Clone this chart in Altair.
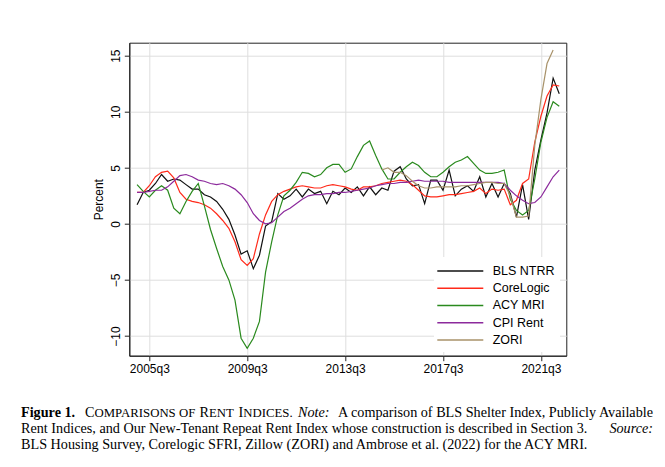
import altair as alt
import pandas as pd

# ---------------- data ----------------
quarters = [f"{y}q{q}" for y in range(2005, 2023) for q in range(1, 5)][:70]  # 2005q1 .. 2022q2

bls_ntrr = [1.7, 2.8, 3.0, 3.6, 4.4, 3.8, 4.0, 3.9, 3.5, 3.1,
            3.1, 2.6, 2.4, 2.0, 1.3, 0.4, -1.0, -2.7, -2.4, -4.0,
            -2.8, -0.2, 0.2, 2.7, 2.2, 2.5, 3.1, 2.4, 3.1, 2.7,
            2.9, 1.8, 2.9, 2.6, 3.2, 2.8, 3.3, 2.5, 3.3, 2.6,
            3.2, 3.0, 4.7, 5.1, 4.0, 3.4, 3.5, 1.8, 3.9, 3.9,
            3.0, 4.8, 2.5, 3.1, 3.4, 2.9, 4.2, 2.4, 3.6, 2.4,
            3.6, 2.7, 0.6, 3.5, 0.4, 4.8, 7.5, 9.9, 13.0, 11.6]
corelogic = [2.8, 2.8, 3.4, 4.2, 4.6, 4.7, 4.1, 2.8, 2.2, 2.0,
             1.9, 1.7, 1.4, 0.9, 0.3, -0.4, -1.6, -3.2, -3.7, -3.1,
             -0.9, 0.8, 2.0, 2.6, 2.9, 3.1, 3.3, 3.4, 3.3, 3.2,
             3.2, 3.4, 3.5, 3.4, 3.3, 3.1, 3.0, 3.3, 3.3, 3.4,
             3.6, 3.7, 3.8, 3.9, 3.8, 3.5, 3.0, 2.5, 2.4, 2.4,
             2.5, 2.6, 2.6, 2.7, 2.8, 2.9, 3.2, 2.7, 3.1, 3.0,
             3.1, 1.7, 2.1, 3.6, 4.0, 7.3, 9.6, 11.4, 12.4, 12.3]
acy_mri = [3.5, 2.9, 2.4, 3.0, 3.4, 3.0, 1.4, 0.9, 2.0, 2.9,
           3.6, 1.6, -0.5, -2.2, -3.8, -5.0, -6.8, -10.2, -11.1, -10.2,
           -8.7, -4.3, -1.6, 0.8, 2.5, 3.0, 3.7, 4.6, 4.5, 4.2,
           4.4, 5.0, 5.3, 5.3, 4.6, 4.9, 6.0, 7.0, 7.4, 6.1,
           4.9, 4.0, 4.0, 4.6, 5.1, 5.5, 5.2, 4.6, 4.2, 4.2,
           4.6, 5.1, 5.5, 5.7, 6.0, 5.4, 4.8, 4.5, 4.5, 4.6,
           4.8, 2.2, 1.2, 0.8, 1.2, 4.0, 7.3, 9.5, 10.9, 10.5]
cpi_rent = [2.8, 2.8, 2.9, 3.0, 3.0, 3.3, 3.8, 4.3, 4.4, 4.2,
            3.9, 3.8, 3.6, 3.5, 3.6, 3.4, 3.1, 2.6, 1.9, 0.9,
            0.3, 0.0, 0.1, 0.6, 1.1, 1.4, 1.8, 2.2, 2.5, 2.6,
            2.6, 2.7, 2.7, 2.8, 2.8, 2.9, 3.0, 3.1, 3.2, 3.4,
            3.5, 3.6, 3.6, 3.7, 3.7, 3.8, 3.9, 3.8, 3.8, 3.8,
            3.8, 3.7, 3.7, 3.7, 3.7, 3.7, 3.7, 3.7, 3.7, 3.7,
            3.6, 3.0, 2.5, 2.1, 1.8, 1.9, 2.4, 3.3, 4.2, 4.8]
zori_start = "2015q1"
zori = [4.8, 5.0, 4.6, 4.6, 4.3, 3.8, 3.4, 3.2, 3.2, 3.3,
        3.3, 3.3, 3.3, 3.4, 3.4, 3.5, 3.6, 3.7, 3.7, 3.6,
        3.6, 2.5, 0.6, 0.6, 0.7, 7.0, 11.1, 14.3, 15.5]

series_names = ["BLS NTRR", "CoreLogic", "ACY MRI", "CPI Rent", "ZORI"]
series_colors = ["#111111", "#ff2a1a", "#2a8a1e", "#8c2a9c", "#a8926a"]
x_tick_labels = ["2005q3", "2009q3", "2013q3", "2017q3", "2021q3"]
y_ticks = [-10, -5, 0, 5, 10, 15]

series_list = [
    ("BLS NTRR", bls_ntrr, "2005q1"),
    ("CoreLogic", corelogic, "2005q1"),
    ("ACY MRI", acy_mri, "2005q1"),
    ("CPI Rent", cpi_rent, "2005q1"),
    ("ZORI", zori, zori_start),
]
rows = []
for name, vals, start in series_list:
    s = quarters.index(start)
    for k, v in enumerate(vals):
        rows.append({"idx": s + k, "quarter": quarters[s + k], "series": name, "value": v})
df = pd.DataFrame(rows)
leg_df = pd.DataFrame({"series": series_names})

tick_idx = [quarters.index(t) for t in x_tick_labels]
label_expr = ("[" + ",".join(f"'{t}'" for t in x_tick_labels) + "][indexof(["
              + ",".join(str(i) for i in tick_idx) + "], datum.value)]")

# ---------------- layout ----------------
PL, PT = 121.3, 34.7          # plot origin inside the svg
W, H = 437, 313
OX, OY = PL + 8, PT + 8       # plot origin on the page

SANS = "Liberation Sans"
SERIF = "Liberation Serif"

color_scale = alt.Scale(domain=series_names, range=series_colors)

lines = alt.Chart(df).mark_line(strokeWidth=1.2).encode(
    x=alt.X("idx:Q",
            scale=alt.Scale(domain=[-1.27, 70.15], nice=False, zero=False),
            axis=alt.Axis(values=tick_idx, labelExpr=label_expr, title=None,
                          labelFontSize=12, labelPadding=3)),
    y=alt.Y("value:Q",
            scale=alt.Scale(domain=[-11.76, 16.16], nice=False, zero=False),
            axis=alt.Axis(values=y_ticks, title="Percent", labelAngle=270,
                          labelAlign="center", labelBaseline="bottom",
                          labelFontSize=12, labelPadding=2,
                          titleFontSize=12, titlePadding=4)),
    color=alt.Color("series:N", scale=color_scale, legend=None),
    detail="series:N",
    order="idx:Q",
)

# ---------------- legend (drawn inside the plot) ----------------
leg_y = alt.Y("series:N",
              scale=alt.Scale(type="point", domain=series_names,
                              range=[228.3, 297.3], padding=0),
              axis=None)
leg_box = alt.Chart(alt.Data(values=[{}])).mark_rect(fill="white").encode(
    x=alt.value(304.7), x2=alt.value(430.7), y=alt.value(214.3), y2=alt.value(309.3))
leg_lines = alt.Chart(leg_df).mark_rule(strokeWidth=1.3).encode(
    x=alt.value(308), x2=alt.value(354), y=leg_y,
    color=alt.Color("series:N", scale=color_scale, legend=None))
leg_text = alt.Chart(leg_df).mark_text(
    align="left", baseline="middle", font=SANS, fontSize=12.5, color="black"
).encode(x=alt.value(363.4), y=leg_y, text="series:N")


def txt(s, px, py, size=14.2, weight="normal", style="normal", align="left"):
    return alt.Chart(alt.Data(values=[{}])).mark_text(
        align=align, baseline="alphabetic", font=SERIF, fontSize=size,
        fontWeight=weight, fontStyle=style, color="black"
    ).encode(x=alt.value(px - OX), y=alt.value(py - OY), text=alt.value(s))


L1, L2, L3 = 417.3, 433.3, 449.0
SC = 12.8
caption = [
    txt("Figure 1.", 21, L1, weight="bold"),
    txt("C", 85, L1),
    txt("OMPARISONS OF", 94.5, L1, size=SC),
    txt("R", 199.5, L1),
    txt("ENT", 209, L1, size=SC),
    txt("I", 238.5, L1),
    txt("NDICES.", 243.3, L1, size=SC),
    txt("Note:", 298, L1, style="italic"),
    txt("A comparison of BLS Shelter Index, Publicly Available", 653, L1, align="right"),
    txt("Rent Indices, and Our New-Tenant Repeat Rent Index whose construction is described in Section 3.", 21, L2),
    txt("Source:", 653, L2, style="italic", align="right"),
    txt("BLS Housing Survey, Corelogic SFRI, Zillow (ZORI) and Ambrose et al. (2022) for the ACY MRI.", 21, L3),
]

chart = alt.layer(lines, leg_box, leg_lines, leg_text, *caption).resolve_scale(
    y="independent"
).properties(
    width=W, height=H,
    padding={"left": PL, "top": PT, "right": 90, "bottom": 100},
    autosize=alt.AutoSizeParams(type="none"),
    background="white",
).configure_view(
    stroke="#222222", strokeWidth=1
).configure_axis(
    labelFont=SANS, titleFont=SANS, labelColor="black", titleColor="black",
    titleFontWeight="normal",
    domainColor="#222222", domainWidth=1,
    tickColor="#222222", tickSize=5, tickWidth=1,
    gridColor="#dedede", gridWidth=1,
)

chart.save("out.html", embed_options={"renderer": "svg", "actions": False})
